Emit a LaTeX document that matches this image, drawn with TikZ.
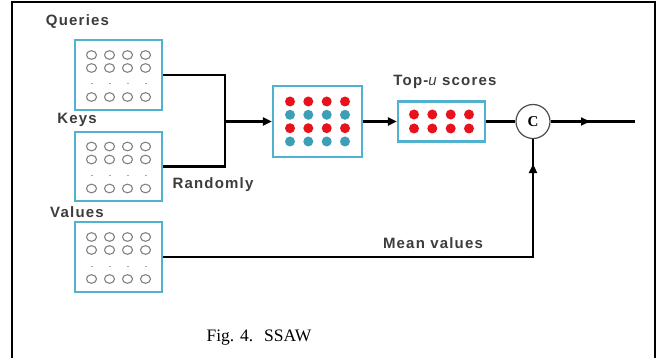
\documentclass[tikz,border=0pt]{standalone}
\usepackage{fontspec}
\usepackage{tikz}
\usetikzlibrary{arrows.meta}
\setmainfont{Liberation Serif}
\newfontfamily\lblfont[LetterSpace=8]{Liberation Sans}
\definecolor{boxblue}{RGB}{80,178,206}
\definecolor{dotred}{RGB}{232,18,28}
\definecolor{dotteal}{RGB}{62,158,182}
\definecolor{ringgray}{RGB}{130,130,130}
\definecolor{lblgray}{RGB}{60,60,60}

\begin{document}
\begin{tikzpicture}[x=1pt,y=1pt]
\tikzstyle{every node}+=[inner sep=0pt]
\tikzstyle{mat}=[draw=boxblue, line width=2.2pt, fill=white, rectangle]
\tikzstyle{lbl}=[font=\fontsize{15}{15}\lblfont\bfseries, text=lblgray]
\tikzstyle{conn}=[black, line width=2.2pt]
\tikzstyle{tip}=[conn, -{Triangle[length=9pt,width=8pt]}]
\useasboundingbox (0,0) rectangle (671,-358);
\draw [black, line width=1.8pt] (12,-362) -- (12,-2) -- (655,-2) -- (655,-362);
\node [mat, minimum width=87, minimum height=70] (q) at (118.5,-75) {};
\node [mat, minimum width=87, minimum height=69] (k) at (118.5,-166.5) {};
\node [mat, minimum width=87, minimum height=70] (v) at (118.5,-257) {};
\node [mat, minimum width=89, minimum height=71] (m) at (317.5,-121.5) {};
\node [mat, minimum width=87, minimum height=40] (t) at (441.5,-121.5) {};
\node [draw=black!70, line width=1.2pt, circle, minimum size=34, font=\fontsize{15}{15}\selectfont\bfseries] (c) at (533,-121.5) {C};
\node [lbl] (ql) at (77.5,-22) {Queries};
\node [lbl] (kl) at (77,-120) {Keys};
\node [lbl] (vl) at (77,-212) {Values};
\node [lbl] (rl) at (213,-185) {Randomly};
\node [lbl] (ml) at (433,-243) {Mean values};
\node [lbl] (tl) at (445,-82) {Top-{\mdseries\itshape u} scores};
\node [font=\fontsize{17.5}{17.5}\selectfont] (cap) at (259,-338) {Fig. 4.\hspace{11pt}SSAW};
\foreach \b in {q,k,v} {
  \foreach \dx in {-27,-9,9,27} {
    \foreach \dy in {20,7,-22}
      \draw [ringgray, line width=1.1pt] ([shift={(\dx,\dy)}]\b.center) ellipse (5 and 4.3);
    \draw [ringgray!70, line width=1pt] ([shift={(\dx-1,-9)}]\b.center) -- ++(2,0);
  }
}
\foreach \dx in {-27.5,-9.2,9.2,27.5} {
  \foreach \dy/\col in {20/dotred,6.7/dotteal,-6.7/dotred,-20/dotteal}
    \fill [\col] ([shift={(\dx,\dy)}]m.center) circle (5);
  \foreach \dy in {-7,7}
    \fill [dotred] ([shift={(\dx,\dy)}]t.center) circle (5);
}
\coordinate (j) at (225,-121.5);
\coordinate (vc) at (533,-257);
\coordinate (va) at (533,-164);
\coordinate (out) at (635,-121.5);
\coordinate (oa) at (590,-121.5);
\draw [conn] (q.east) -| (j) |- (k.east);
\draw [tip] (j) -- (m.west);
\draw [tip] (m.east) -- (t.west);
\draw [conn] (t.east) -- (c.west);
\draw [conn] (c.east) -- (out);
\draw [tip] (c.east) -- (oa);
\draw [conn] (v.east) -- (vc) -- (c.south);
\draw [tip] (vc) -- (va);
\end{tikzpicture}
\end{document}
